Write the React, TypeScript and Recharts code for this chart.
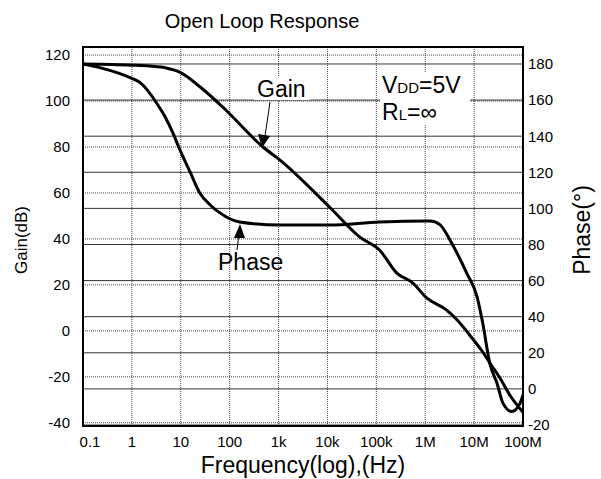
import {
  CartesianGrid,
  Line,
  LineChart,
  ReferenceArea,
  XAxis,
  YAxis,
} from "recharts";

// frequency (Hz) and readings, taken off the plot
const gainFreq = [
  0.1, 1, 2.3, 5.2, 9.5, 25, 72, 480, 1070, 11000, 46000, 117000, 263000,
  560000, 1.07e6, 2.75e6, 4.5e6, 8.1e6, 1.5e7, 2.1e7, 3.4e7, 5.4e7, 1e8,
];
const gainDb = [
  116.1, 115.6, 115.2, 114.3, 112.6, 106.1, 97.4, 80, 74.3, 53.9, 40.8, 35.1,
  25.1, 20.8, 14.3, 9.0, 4.7, -1.8, -9.2, -14, -20.6, -28, -35.4,
];

const phaseFreq = [
  0.1, 0.22, 1, 1.5, 3.2, 4.8, 6.9, 9.6, 15.5, 24.5, 40, 63, 160, 1070, 11000,
  117000, 1.26e6, 2e6, 3.2e6, 7.1e6, 1.15e7, 1.5e7, 2.1e7, 2.95e7, 3.9e7,
  5.9e7, 8.7e7, 1e8,
];
const phaseDeg = [
  180, 178, 172, 169.5, 158.4, 150.6, 141.8, 132.4, 120.2, 108.5, 101.9, 97.5,
  92.5, 90.8, 90.8, 92.5, 93, 91, 82.5, 64, 51, 36.5, 14, 3, -8, -12.5, -8,
  -3.4,
];

const freqTicks = [0.1, 1, 10, 100, 1e3, 1e4, 1e5, 1e6, 1e7, 1e8];
const freqLabels = ["0.1", "1", "10", "100", "1k", "10k", "100k", "1M", "10M", "100M"];
const gainTicks = [-40, -20, 0, 20, 40, 60, 80, 100, 120];
const phaseTicks = [-20, 0, 20, 40, 60, 80, 100, 120, 140, 160, 180];

const gainDomain = [-41.4, 123.5];
const phaseDomain = [-20.55, 189.4];

const gainData = gainFreq.map((f, i) => ({ f, gain: gainDb[i] }));
const phaseData = phaseFreq.map((f, i) => ({ f, phase: phaseDeg[i] }));

const font = '"Liberation Sans", Arial, Helvetica, sans-serif';
const tickStyle = { fontSize: 15, fill: "#000", fontFamily: font };

function FreqTick(props: any) {
  const { x, y, payload } = props;
  const i = freqTicks.indexOf(payload.value);
  const dx = i === 0 ? 7 : 0;
  return (
    <text
      x={x + dx}
      y={y}
      dy="0.71em"
      textAnchor="middle"
      style={tickStyle}
    >
      {freqLabels[i]}
    </text>
  );
}

export default function App() {
  return (
    <div
      style={{
        position: "absolute",
        left: 0,
        top: 0,
        width: 601,
        height: 479,
        background: "#fff",
        fontFamily: font,
      }}
    >
      <LineChart
        width={601}
        height={479}
        margin={{ top: 47, right: 0, bottom: 0, left: 0 }}
      >
        <CartesianGrid
          xAxisId="f"
          yAxisId="gain"
          stroke="#444"
          strokeDasharray="1 1"
          horizontal
          vertical
        />
        <CartesianGrid
          xAxisId="f"
          yAxisId="phase"
          stroke="#333"
          vertical={false}
        />
        <XAxis
          xAxisId="f"
          dataKey="f"
          type="number"
          scale="log"
          domain={[0.1, 1e8]}
          ticks={freqTicks}
          interval={0}
          allowDataOverflow
          height={53}
          tickSize={0}
          tickMargin={10}
          axisLine={false}
          tick={<FreqTick />}
        />
        <YAxis
          yAxisId="gain"
          orientation="left"
          type="number"
          domain={gainDomain}
          ticks={gainTicks}
          interval={0}
          allowDataOverflow
          width={83}
          tickSize={0}
          tickMargin={13}
          axisLine={false}
          tick={tickStyle}
        />
        <YAxis
          yAxisId="phase"
          orientation="right"
          type="number"
          domain={phaseDomain}
          ticks={phaseTicks}
          interval={0}
          allowDataOverflow
          width={78}
          tickSize={0}
          tickMargin={5}
          axisLine={false}
          tick={{ ...tickStyle, textAnchor: "start" }}
        />
        <ReferenceArea
          xAxisId="f"
          yAxisId="gain"
          x1={0.1}
          x2={1e8}
          y1={gainDomain[0]}
          y2={gainDomain[1]}
          fill="none"
          fillOpacity={0}
          stroke="#000"
          strokeWidth={2}
        />
        <Line
          xAxisId="f"
          yAxisId="gain"
          data={gainData}
          dataKey="gain"
          type="monotone"
          stroke="#000"
          strokeWidth={3}
          dot={false}
          isAnimationActive={false}
        />
        <Line
          xAxisId="f"
          yAxisId="phase"
          data={phaseData}
          dataKey="phase"
          type="monotone"
          stroke="#000"
          strokeWidth={3}
          dot={false}
          isAnimationActive={false}
        />
      </LineChart>

      <svg
        width={601}
        height={479}
        style={{ position: "absolute", left: 0, top: 0, pointerEvents: "none" }}
        fontFamily={font}
      >
        <text x={262} y={28} fontSize={20} textAnchor="middle">
          Open Loop Response
        </text>
        <text
          x={0}
          y={0}
          fontSize={17}
          textAnchor="middle"
          transform="translate(27 240) rotate(-90)"
        >
          Gain(dB)
        </text>
        <text
          x={0}
          y={0}
          fontSize={23}
          textAnchor="middle"
          transform="translate(590 230) rotate(-90)"
        >
          Phase(°)
        </text>
        <text x={303} y={473} fontSize={23} textAnchor="middle">
          Frequency(log),(Hz)
        </text>

        <rect x={254} y={76} width={56} height={24} fill="#fff" />
        <text x={257} y={97} fontSize={23}>
          Gain
        </text>
        <line x1={270} y1={102} x2={265} y2={136} stroke="#000" strokeWidth={1} />
        <polygon points="262,148 258,134 270,136" fill="#000" />

        <text x={218} y={270} fontSize={23}>
          Phase
        </text>
        <line x1={237} y1={250} x2={239} y2={234} stroke="#000" strokeWidth={1} />
        <polygon points="240,224 234,238 245,238" fill="#000" />

        <rect x={380} y={72} width={90} height={52} fill="#fff" />
        <text x={382} y={93} fontSize={23}>
          V
          <tspan fontSize={15}>DD</tspan>
          =5V
        </text>
        <text x={382} y={120} fontSize={23}>
          R
          <tspan fontSize={15}>L</tspan>
          =∞
        </text>
      </svg>
    </div>
  );
}
